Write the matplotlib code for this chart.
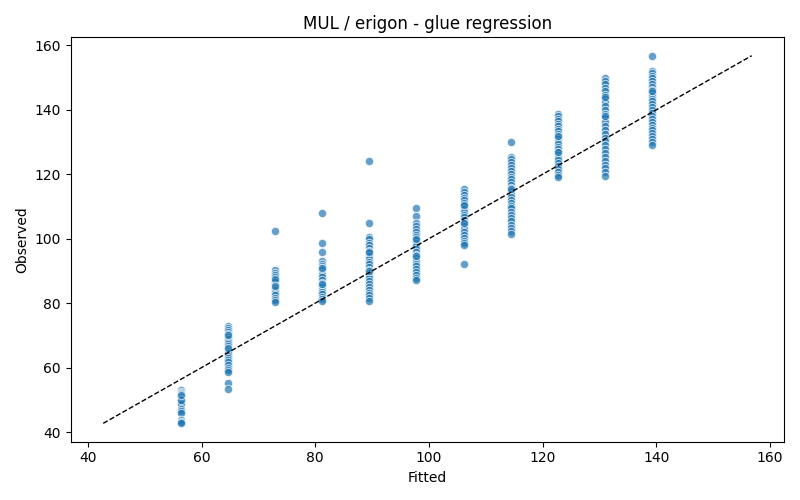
import matplotlib
matplotlib.use("Agg")
import matplotlib.pyplot as plt
import numpy as np

# fitted level for each group and the observed values at that level
fitted_levels = [56.4, 64.6, 72.9, 81.2, 89.5, 97.8, 106.1, 114.4, 122.7, 131.0, 139.3]

obs_56 = [52.9, 52.5, 52.1, 51.7, 51.2, 50.8, 50.3, 49.9, 49.4, 48.6, 47.1, 46.6, 45.9, 43.6, 43.1, 42.7, 50.0, 51.5]
obs_64 = [72.8, 72.2, 71.6, 71.0, 70.3, 69.6, 68.8, 68.0, 67.3, 66.6, 65.8, 65.0, 64.4, 63.7, 63.0, 62.3,
          61.6, 60.8, 59.9, 59.2, 58.7, 55.1, 53.3, 70.0, 66.0]
obs_72 = [102.5, 90.2, 89.5, 88.7, 88.0, 87.3, 86.5, 85.6, 84.7, 84.0, 83.2, 82.4, 81.6, 81.0, 80.5, 87.6, 85.2]
obs_81 = [108.1, 98.8, 95.8, 93.0, 92.3, 91.6, 90.9, 90.2, 89.5, 88.7, 88.0, 87.2, 86.4, 85.6, 84.9, 84.1,
          83.4, 82.7, 81.9, 81.2, 80.8, 91.0, 86.0]
obs_89 = [124.0, 105.0, 100.5, 99.8, 98.8, 98.0, 97.1, 96.3, 95.5, 94.6, 93.8, 92.9, 92.1, 91.2, 90.4, 89.5,
          88.6, 87.7, 86.8, 85.9, 85.0, 84.1, 83.2, 82.4, 81.5, 80.8, 96.0, 90.0]
obs_97 = [109.5, 107.2, 104.8, 104.0, 103.1, 102.2, 101.3, 100.4, 99.5, 98.6, 97.7, 96.8, 95.9, 95.0, 94.1,
          93.2, 92.3, 91.4, 90.5, 89.6, 88.6, 87.8, 87.1, 100.0, 94.5]
obs_106 = [115.3, 114.4, 113.6, 112.7, 111.9, 111.0, 110.2, 109.3, 108.4, 107.5, 106.6, 105.7, 104.8, 103.9,
           103.0, 102.1, 101.2, 100.3, 99.4, 98.6, 97.9, 92.2, 110.5, 105.0]
obs_114 = [129.9, 125.4, 124.6, 123.8, 122.9, 122.0, 121.1, 120.2, 119.3, 118.4, 117.5, 116.6, 115.7, 114.8,
           113.9, 113.0, 112.1, 111.2, 110.3, 109.4, 108.4, 107.4, 106.4, 105.4, 104.4, 103.4, 102.4, 101.4, 115.5]
obs_122 = [138.8, 138.1, 137.3, 136.5, 135.7, 134.9, 134.1, 133.3, 132.5, 131.7, 130.9, 130.1, 129.3, 128.5,
           127.7, 126.9, 126.1, 125.2, 124.3, 123.4, 122.5, 121.6, 120.7, 119.9, 119.3, 132.0, 127.0]
obs_131 = [150.0, 149.0, 148.0, 146.9, 145.8, 144.7, 143.5, 142.3, 141.1, 139.9, 138.7, 137.5, 136.3, 135.0,
           133.8, 132.6, 131.4, 130.2, 129.0, 127.8, 126.6, 125.4, 124.2, 123.0, 121.8, 120.6, 119.4, 144.0, 138.0]
obs_139 = [156.8, 152.2, 151.4, 150.6, 149.8, 148.9, 148.0, 147.1, 146.2, 145.3, 144.4, 143.5, 142.6, 141.7,
           140.8, 139.9, 139.0, 138.1, 137.2, 136.3, 135.4, 134.5, 133.6, 132.7, 131.8, 130.9, 130.0, 129.2, 146.0]

observed_groups = [obs_56, obs_64, obs_72, obs_81, obs_89, obs_97, obs_106, obs_114, obs_122, obs_131, obs_139]

fitted = np.concatenate([[f] * len(g) for f, g in zip(fitted_levels, observed_groups)])
observed = np.concatenate(observed_groups)

fig, ax = plt.subplots(figsize=(8, 5), dpi=100)
ax.scatter(fitted, observed, s=36, color="#1f77b4", alpha=0.7, edgecolor="white", linewidth=0.75)

lo = min(fitted.min(), observed.min())
hi = max(fitted.max(), observed.max())
ax.plot([lo, hi], [lo, hi], color="black", linestyle="--", linewidth=1)

ax.set_xlabel("Fitted")
ax.set_ylabel("Observed")
ax.set_title("MUL / erigon - glue regression")
fig.tight_layout()
fig.savefig("out.png")
